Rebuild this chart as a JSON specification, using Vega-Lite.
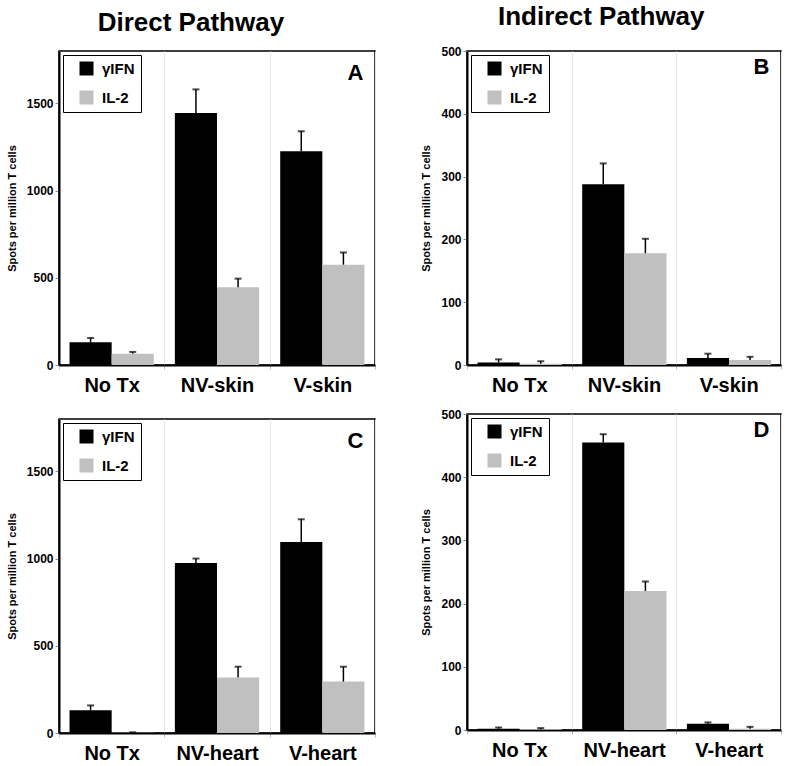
{
  "$schema": "https://vega.github.io/schema/vega-lite/v6.json",
  "padding": {"left": 5, "top": 4, "right": 5, "bottom": 2},
  "background": "white",
  "config": {
    "font": "Liberation Sans",
    "view": {"stroke": "black", "strokeWidth": 1.5},
    "axis": {"labelFont": "Liberation Sans", "titleFont": "Liberation Sans", "labelFontWeight": "bold", "titleFontWeight": "bold", "labelColor": "black", "titleColor": "black", "domainColor": "black", "domainWidth": 2},
    "axisX": {"labelFontSize": 20, "labelPadding": 6, "tickBand": "extent", "grid": true, "gridColor": "#e6e6e6", "tickColor": "#bbbbbb", "tickSize": 4, "labelAngle": 0, "title": null},
    "axisY": {"labelFontSize": 12, "titleFontSize": 11, "tickSize": 4, "tickColor": "#888888", "labelPadding": 2, "grid": false, "titlePadding": 9, "format": "d"},
    "legend": {"orient": "top-left", "offset": 4, "strokeColor": "black", "fillColor": "white", "padding": 6, "symbolOffset": 10, "symbolType": "square", "symbolSize": 196, "symbolStrokeWidth": 0, "labelFontSize": 15, "labelFontWeight": "bold", "labelFont": "Liberation Sans", "labelColor": "black", "labelOffset": 8, "rowPadding": 13, "title": null}
  },
  "hconcat": [
    {
      "title": {"text": "Direct Pathway", "fontSize": 26, "fontWeight": 900, "font": "Liberation Sans", "anchor": "middle", "offset": 14, "color": "black"},
      "spacing": 22,
      "resolve": {"scale": {"color": "independent", "y": "independent", "x": "independent"}, "legend": {"color": "independent"}},
      "vconcat": [
        {
          "width": 316, "height": 314,
          "title": {"text": "A", "anchor": "end", "orient": "top", "offset": -34, "dx": -12, "fontSize": 22, "fontWeight": "bold", "font": "Liberation Sans", "color": "black"},
          "data": {"values": [
            {"group": "No Tx", "cytokine": "γIFN", "value": 130, "upper": 155},
            {"group": "No Tx", "cytokine": "IL-2", "value": 65, "upper": 75},
            {"group": "NV-skin", "cytokine": "γIFN", "value": 1445, "upper": 1580},
            {"group": "NV-skin", "cytokine": "IL-2", "value": 445, "upper": 495},
            {"group": "V-skin", "cytokine": "γIFN", "value": 1225, "upper": 1340},
            {"group": "V-skin", "cytokine": "IL-2", "value": 575, "upper": 645}
          ]},
          "encoding": {
            "x": {"field": "group", "type": "nominal", "sort": ["No Tx", "NV-skin", "V-skin"], "scale": {"paddingInner": 0, "paddingOuter": 0}},
            "xOffset": {"field": "cytokine", "type": "nominal", "sort": ["γIFN", "IL-2"], "scale": {"paddingInner": 0, "paddingOuter": 0.25}}
          },
          "layer": [
            {"mark": {"type": "bar"}, "encoding": {
              "y": {"field": "value", "type": "quantitative", "scale": {"domain": [0, 1800], "nice": false}, "axis": {"values": [0, 500, 1000, 1500], "title": "Spots per million T cells"}},
              "color": {"field": "cytokine", "type": "nominal", "sort": ["γIFN", "IL-2"], "scale": {"domain": ["γIFN", "IL-2"], "range": ["#000000", "#c0c0c0"]}}}},
            {"mark": {"type": "rule", "color": "black", "strokeWidth": 1.5}, "encoding": {"y": {"field": "value", "type": "quantitative"}, "y2": {"field": "upper"}}},
            {"mark": {"type": "tick", "color": "black", "thickness": 2, "size": 7}, "encoding": {"y": {"field": "upper", "type": "quantitative"}}}
          ]
        },
        {
          "width": 316, "height": 314,
          "title": {"text": "C", "anchor": "end", "orient": "top", "offset": -34, "dx": -12, "fontSize": 22, "fontWeight": "bold", "font": "Liberation Sans", "color": "black"},
          "data": {"values": [
            {"group": "No Tx", "cytokine": "γIFN", "value": 130, "upper": 158},
            {"group": "No Tx", "cytokine": "IL-2", "value": 2, "upper": 4},
            {"group": "NV-heart", "cytokine": "γIFN", "value": 975, "upper": 1000},
            {"group": "NV-heart", "cytokine": "IL-2", "value": 318, "upper": 380},
            {"group": "V-heart", "cytokine": "γIFN", "value": 1095, "upper": 1225},
            {"group": "V-heart", "cytokine": "IL-2", "value": 295, "upper": 380}
          ]},
          "encoding": {
            "x": {"field": "group", "type": "nominal", "sort": ["No Tx", "NV-heart", "V-heart"], "scale": {"paddingInner": 0, "paddingOuter": 0}},
            "xOffset": {"field": "cytokine", "type": "nominal", "sort": ["γIFN", "IL-2"], "scale": {"paddingInner": 0, "paddingOuter": 0.25}}
          },
          "layer": [
            {"mark": {"type": "bar"}, "encoding": {
              "y": {"field": "value", "type": "quantitative", "scale": {"domain": [0, 1800], "nice": false}, "axis": {"values": [0, 500, 1000, 1500], "title": "Spots per million T cells"}},
              "color": {"field": "cytokine", "type": "nominal", "sort": ["γIFN", "IL-2"], "scale": {"domain": ["γIFN", "IL-2"], "range": ["#000000", "#c0c0c0"]}}}},
            {"mark": {"type": "rule", "color": "black", "strokeWidth": 1.5}, "encoding": {"y": {"field": "value", "type": "quantitative"}, "y2": {"field": "upper"}}},
            {"mark": {"type": "tick", "color": "black", "thickness": 2, "size": 7}, "encoding": {"y": {"field": "upper", "type": "quantitative"}}}
          ]
        }
      ]
    },
    {
      "title": {"text": "Indirect Pathway", "fontSize": 26, "fontWeight": 900, "font": "Liberation Sans", "anchor": "middle", "offset": 14, "color": "black"},
      "spacing": 11,
      "resolve": {"scale": {"color": "independent", "y": "independent", "x": "independent"}, "legend": {"color": "independent"}},
      "vconcat": [
        {
          "width": 314, "height": 314,
          "title": {"text": "B", "anchor": "end", "orient": "top", "offset": -34, "dx": -12, "fontSize": 22, "fontWeight": "bold", "font": "Liberation Sans", "color": "black"},
          "data": {"values": [
            {"group": "No Tx", "cytokine": "γIFN", "value": 4, "upper": 9},
            {"group": "No Tx", "cytokine": "IL-2", "value": 2, "upper": 6},
            {"group": "NV-skin", "cytokine": "γIFN", "value": 288, "upper": 321},
            {"group": "NV-skin", "cytokine": "IL-2", "value": 178, "upper": 201},
            {"group": "V-skin", "cytokine": "γIFN", "value": 11, "upper": 18},
            {"group": "V-skin", "cytokine": "IL-2", "value": 8, "upper": 13}
          ]},
          "encoding": {
            "x": {"field": "group", "type": "nominal", "sort": ["No Tx", "NV-skin", "V-skin"], "scale": {"paddingInner": 0, "paddingOuter": 0}},
            "xOffset": {"field": "cytokine", "type": "nominal", "sort": ["γIFN", "IL-2"], "scale": {"paddingInner": 0, "paddingOuter": 0.25}}
          },
          "layer": [
            {"mark": {"type": "bar"}, "encoding": {
              "y": {"field": "value", "type": "quantitative", "scale": {"domain": [0, 500], "nice": false}, "axis": {"values": [0, 100, 200, 300, 400, 500], "title": "Spots per million T cells"}},
              "color": {"field": "cytokine", "type": "nominal", "sort": ["γIFN", "IL-2"], "scale": {"domain": ["γIFN", "IL-2"], "range": ["#000000", "#c0c0c0"]}}}},
            {"mark": {"type": "rule", "color": "black", "strokeWidth": 1.5}, "encoding": {"y": {"field": "value", "type": "quantitative"}, "y2": {"field": "upper"}}},
            {"mark": {"type": "tick", "color": "black", "thickness": 2, "size": 7}, "encoding": {"y": {"field": "upper", "type": "quantitative"}}}
          ]
        },
        {
          "width": 314, "height": 316,
          "title": {"text": "D", "anchor": "end", "orient": "top", "offset": -34, "dx": -12, "fontSize": 22, "fontWeight": "bold", "font": "Liberation Sans", "color": "black"},
          "data": {"values": [
            {"group": "No Tx", "cytokine": "γIFN", "value": 2, "upper": 4},
            {"group": "No Tx", "cytokine": "IL-2", "value": 1, "upper": 3},
            {"group": "NV-heart", "cytokine": "γIFN", "value": 455, "upper": 468},
            {"group": "NV-heart", "cytokine": "IL-2", "value": 220, "upper": 235},
            {"group": "V-heart", "cytokine": "γIFN", "value": 10, "upper": 12},
            {"group": "V-heart", "cytokine": "IL-2", "value": 2, "upper": 5}
          ]},
          "encoding": {
            "x": {"field": "group", "type": "nominal", "sort": ["No Tx", "NV-heart", "V-heart"], "scale": {"paddingInner": 0, "paddingOuter": 0}},
            "xOffset": {"field": "cytokine", "type": "nominal", "sort": ["γIFN", "IL-2"], "scale": {"paddingInner": 0, "paddingOuter": 0.25}}
          },
          "layer": [
            {"mark": {"type": "bar"}, "encoding": {
              "y": {"field": "value", "type": "quantitative", "scale": {"domain": [0, 500], "nice": false}, "axis": {"values": [0, 100, 200, 300, 400, 500], "title": "Spots per million T cells"}},
              "color": {"field": "cytokine", "type": "nominal", "sort": ["γIFN", "IL-2"], "scale": {"domain": ["γIFN", "IL-2"], "range": ["#000000", "#c0c0c0"]}}}},
            {"mark": {"type": "rule", "color": "black", "strokeWidth": 1.5}, "encoding": {"y": {"field": "value", "type": "quantitative"}, "y2": {"field": "upper"}}},
            {"mark": {"type": "tick", "color": "black", "thickness": 2, "size": 7}, "encoding": {"y": {"field": "upper", "type": "quantitative"}}}
          ]
        }
      ]
    }
  ],
  "spacing": 43,
  "resolve": {"scale": {"color": "independent", "y": "independent", "x": "independent"}, "legend": {"color": "independent"}}
}
